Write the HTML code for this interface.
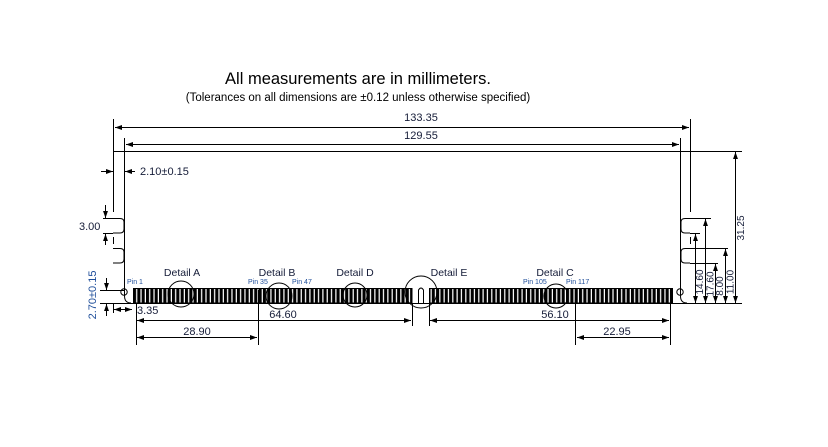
<!DOCTYPE html>
<html><head><meta charset="utf-8"><style>
html,body{margin:0;padding:0;background:#fff}
svg{display:block;font-family:"Liberation Sans",sans-serif}
</style></head><body>
<svg width="828" height="447" viewBox="0 0 828 447" xmlns="http://www.w3.org/2000/svg">
<defs>
<marker id="a" viewBox="0 0 10 10" refX="10" refY="5" markerWidth="7" markerHeight="7" orient="auto-start-reverse"><path d="M0,1.5 L10,5 L0,8.5 z" fill="#000"/></marker>
<pattern id="pins" x="133" y="0" width="4.33" height="20" patternUnits="userSpaceOnUse"><rect x="0" y="0" width="3.1" height="20" fill="#000"/></pattern>
</defs>
<text x="358" y="84" font-size="16.5" text-anchor="middle">All measurements are in millimeters.</text>
<text x="358" y="101" font-size="11.5" text-anchor="middle">(Tolerances on all dimensions are ±0.12 unless otherwise specified)</text>
<g stroke="#000" stroke-width="1" fill="none">
<line x1="113.5" y1="119" x2="113.5" y2="212"/>
<line x1="690.5" y1="119" x2="690.5" y2="212"/>
<line x1="113" y1="151.5" x2="742" y2="151.5"/>
<line x1="124.5" y1="138" x2="124.5" y2="289"/>
<line x1="680.5" y1="138" x2="680.5" y2="289"/>
<line x1="115" y1="127.5" x2="689" y2="127.5" marker-start="url(#a)" marker-end="url(#a)"/>
<line x1="126" y1="144.5" x2="679" y2="144.5" marker-start="url(#a)" marker-end="url(#a)"/>
<line x1="101" y1="171.5" x2="113" y2="171.5" marker-end="url(#a)"/>
<line x1="135" y1="171.5" x2="125" y2="171.5" marker-end="url(#a)"/>
<path d="M113 218.5 H120 Q124 218.5 124 222 V229 Q124 233 120 233 H113"/>
<path d="M113 248.5 H120 Q124 248.5 124 252 V259 Q124 263 120 263 H113"/>
<line x1="113.5" y1="237" x2="113.5" y2="244"/>
<line x1="103" y1="218.5" x2="113" y2="218.5"/>
<line x1="103" y1="233.5" x2="113" y2="233.5"/>
<line x1="105.5" y1="205" x2="105.5" y2="218" marker-end="url(#a)"/>
<line x1="105.5" y1="245" x2="105.5" y2="234" marker-end="url(#a)"/>
<path d="M690 218.5 H685 Q681 218.5 681 222 V229 Q681 233 685 233 H690"/>
<path d="M690 248.5 H685 Q681 248.5 681 252 V259 Q681 263 685 263 H690"/>
<line x1="690.5" y1="237" x2="690.5" y2="244"/>
<line x1="690" y1="218.5" x2="711" y2="218.5"/>
<line x1="690" y1="233.5" x2="700" y2="233.5"/>
<line x1="690" y1="248.5" x2="728" y2="248.5"/>
<line x1="690" y1="263.5" x2="718" y2="263.5"/>
<path d="M124.5 289 V296 Q124.5 303 131 303"/>
<path d="M680.5 289 V296 Q680.5 303 687 303"/>
<line x1="100" y1="303.5" x2="742" y2="303.5"/>
<line x1="100" y1="290.5" x2="124" y2="290.5"/>
<circle cx="124" cy="292" r="3.2"/>
<circle cx="680" cy="292" r="3.2"/>
<line x1="106.5" y1="278" x2="106.5" y2="290" marker-end="url(#a)"/>
<line x1="106.5" y1="316" x2="106.5" y2="304" marker-end="url(#a)"/>
<line x1="113.5" y1="303" x2="113.5" y2="313"/>
<line x1="114" y1="309.5" x2="124" y2="309.5" marker-start="url(#a)"/>
<line x1="124" y1="309.5" x2="132" y2="309.5" marker-end="url(#a)"/>
<line x1="695.5" y1="303" x2="695.5" y2="234" marker-start="url(#a)" marker-end="url(#a)"/>
<line x1="705.5" y1="303" x2="705.5" y2="219" marker-start="url(#a)" marker-end="url(#a)"/>
<line x1="715.5" y1="303" x2="715.5" y2="264" marker-start="url(#a)" marker-end="url(#a)"/>
<line x1="725.5" y1="303" x2="725.5" y2="249" marker-start="url(#a)" marker-end="url(#a)"/>
<line x1="735.5" y1="303" x2="735.5" y2="152" marker-start="url(#a)" marker-end="url(#a)"/>
</g>
<rect x="133" y="288" width="279" height="15" fill="url(#pins)"/>
<rect x="429" y="288" width="244" height="15" fill="url(#pins)"/>
<g stroke="#000" fill="none" stroke-width="1">
<rect x="133.5" y="288.5" width="278.5" height="14.5"/>
<rect x="429.5" y="288.5" width="243" height="14.5"/>
<path d="M418.5 303 V290 Q421 286 423.5 290 V303"/>
<circle cx="181" cy="294" r="13"/>
<circle cx="279" cy="296" r="13"/>
<circle cx="355" cy="295" r="12"/>
<circle cx="421" cy="292" r="16"/>
<circle cx="556" cy="296" r="12"/>
<line x1="136.5" y1="303" x2="136.5" y2="345"/>
<line x1="258.5" y1="290" x2="258.5" y2="345"/>
<line x1="412.5" y1="303" x2="412.5" y2="326"/>
<line x1="429.5" y1="303" x2="429.5" y2="326"/>
<line x1="575.5" y1="293" x2="575.5" y2="345"/>
<line x1="670.5" y1="303" x2="670.5" y2="345"/>
<line x1="137" y1="320.5" x2="411" y2="320.5" marker-start="url(#a)" marker-end="url(#a)"/>
<line x1="430" y1="320.5" x2="669" y2="320.5" marker-start="url(#a)" marker-end="url(#a)"/>
<line x1="137" y1="337.5" x2="257" y2="337.5" marker-start="url(#a)" marker-end="url(#a)"/>
<line x1="577" y1="337.5" x2="669" y2="337.5" marker-start="url(#a)" marker-end="url(#a)"/>
</g>
<g font-size="11" fill="#151c38">
<text x="421" y="121" text-anchor="middle">133.35</text>
<text x="421" y="139" text-anchor="middle">129.55</text>
<text x="140" y="175">2.10±0.15</text>
<text x="79" y="230">3.00</text>
<text x="137" y="314">3.35</text>
<text x="283" y="318" text-anchor="middle">64.60</text>
<text x="555" y="318" text-anchor="middle">56.10</text>
<text x="197" y="335" text-anchor="middle">28.90</text>
<text x="617" y="335" text-anchor="middle">22.95</text>
<text transform="translate(96,295) rotate(-90)" text-anchor="middle" fill="#1f4e9a">2.70±0.15</text>
</g>
<g font-size="10" fill="#151c38" text-anchor="middle">
<text transform="translate(703,282) rotate(-90)">14.60</text>
<text transform="translate(713.5,284) rotate(-90)">17.60</text>
<text transform="translate(723,286) rotate(-90)">8.00</text>
<text transform="translate(733.5,282) rotate(-90)">11.00</text>
<text transform="translate(744,228) rotate(-90)">31.25</text>
</g>
<g font-size="10.5" fill="#151c38" text-anchor="middle">
<text x="182" y="276">Detail A</text>
<text x="277" y="276">Detail B</text>
<text x="355" y="276">Detail D</text>
<text x="449" y="276">Detail E</text>
<text x="555" y="276">Detail C</text>
</g>
<g font-size="7" fill="#1f4e9a">
<text x="127" y="284">Pin 1</text>
<text x="248" y="284">Pin 35</text>
<text x="292" y="284">Pin 47</text>
<text x="523" y="284">Pin 105</text>
<text x="566" y="284">Pin 117</text>
</g>
</svg>
</body></html>
